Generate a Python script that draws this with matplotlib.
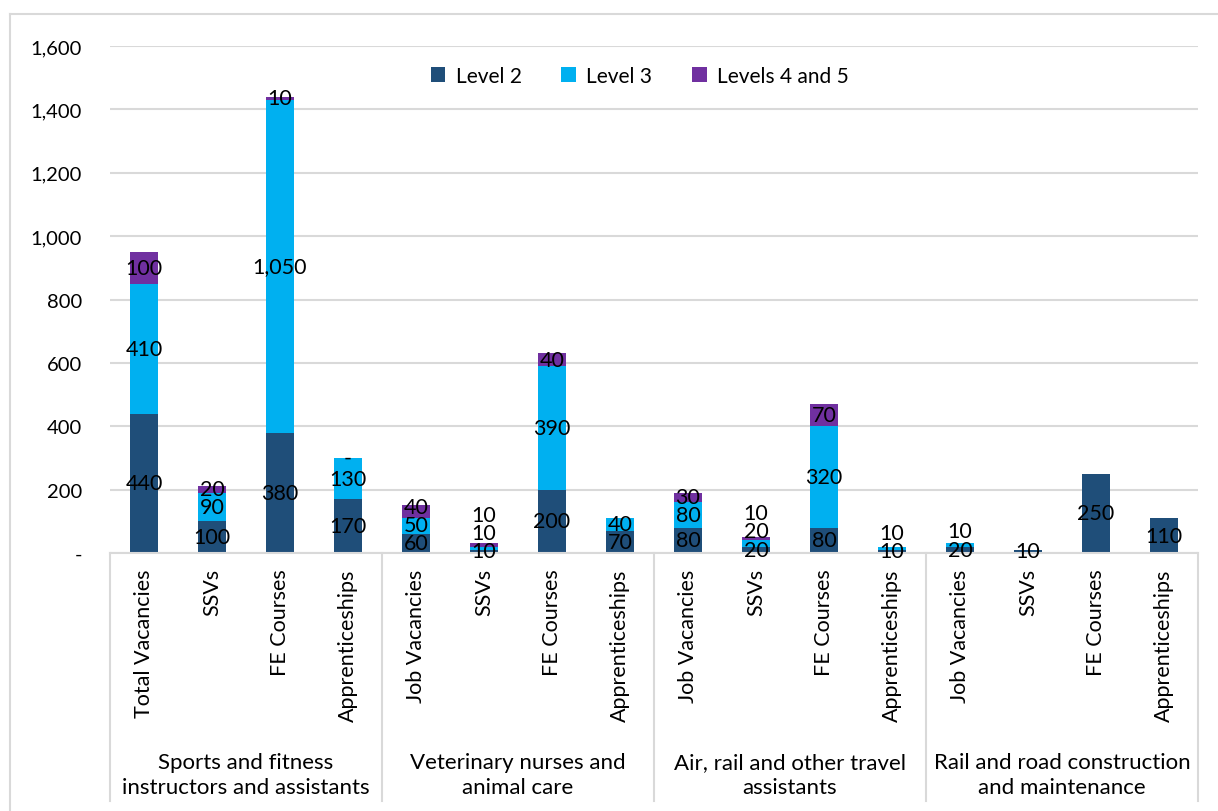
import numpy as np
import matplotlib.pyplot as plt
from matplotlib.lines import Line2D

plt.rcParams['font.family'] = ['Lato', 'DejaVu Sans']

#data
groups = ['Sports and fitness\ninstructors and assistants',
          'Veterinary nurses and\nanimal care',
          'Air, rail and other travel\nassistants',
          'Rail and road construction\nand maintenance']
subcats = [
    ['Total Vacancies', 'SSVs', 'FE Courses', 'Apprenticeships'],
    ['Job Vacancies', 'SSVs', 'FE Courses', 'Apprenticeships'],
    ['Job Vacancies', 'SSVs', 'FE Courses', 'Apprenticeships'],
    ['Job Vacancies', 'SSVs', 'FE Courses', 'Apprenticeships'],
]
nan = np.nan
level2 = [440, 100, 380, 170, 60, 10, 200, 70, 80, 20, 80, 10, 20, 10, 250, 110]
level3 = [410, 90, 1050, 130, 50, 10, 390, 40, 80, 20, 320, 10, 10, nan, nan, nan]
level45 = [100, 20, 10, 0, 40, 10, 40, nan, 30, 10, 70, nan, nan, nan, nan, nan]

series = [('Level 2', level2, '#1F4E79'),
          ('Level 3', level3, '#00B0F0'),
          ('Levels 4 and 5', level45, '#7030A0')]

fig = plt.figure(figsize=(12.18, 8.12), dpi=100)
ax = fig.add_axes([110/1218, 1 - 554/812, 1088/1218, 507/812])

x = np.arange(len(level2))
bottom = np.zeros(len(x))
label_pos = [[] for _ in x]
for name, vals, col in series:
    v = np.array(vals, dtype=float)
    h = np.nan_to_num(v)
    ax.bar(x, h, 0.4, bottom=bottom, color=col, label=name, zorder=2)
    for i in x:
        if not np.isnan(v[i]):
            label_pos[i].append((bottom[i] + h[i] / 2, v[i]))
    bottom += h

#data labels, pushed apart where segments are thin
for i in x:
    prev = -1e9
    for yc, val in label_pos[i]:
        y = max(yc, prev + 58)
        prev = y
        txt = '-' if val == 0 else '{:,.0f}'.format(val)
        ax.text(i, y, txt, ha='center', va='center', fontsize=15.5, color='black', zorder=3)

ax.set_xlim(-0.5, len(x) - 0.5)
ax.set_ylim(0, 1600)
ax.set_yticks(range(0, 1601, 200))
ax.set_yticklabels(['-'] + ['{:,}'.format(t) for t in range(200, 1601, 200)], fontsize=14.5)
ax.yaxis.grid(True, color='#D9D9D9', lw=1.5, zorder=0)
ax.tick_params(axis='y', length=0, pad=20)
for s in ['top', 'right', 'left']:
    ax.spines[s].set_visible(False)
ax.spines['bottom'].set_color('#D9D9D9')
ax.spines['bottom'].set_linewidth(1.5)

#two level category axis
ax.set_xticks(x)
ax.set_xticklabels([s for g in subcats for s in g], rotation=90, fontsize=15.5, va='top')
ax.tick_params(axis='x', length=0, pad=11)
trans = ax.get_xaxis_transform()
for k in range(len(groups) + 1):
    xb = k * 4 - 0.5
    ax.add_line(Line2D([xb, xb], [0, -0.49], transform=trans, color='#D9D9D9', lw=1.5, clip_on=False))
for k, g in enumerate(groups):
    ax.text(k * 4 + 1.5, -0.392, g, transform=trans, ha='center', va='top', fontsize=16,
            linespacing=1.3)

ax.legend(loc='upper center', bbox_to_anchor=(0.487, 0.998), ncol=3, frameon=False, fontsize=15,
          handlelength=0.7, handleheight=0.7, columnspacing=1.9, handletextpad=0.5)

#chart border
fig.add_artist(Line2D([10/1218, 10/1218], [0, 1 - 15/812], color='#D9D9D9', lw=1.5))
fig.add_artist(Line2D([10/1218, 1], [1 - 15/812, 1 - 15/812], color='#D9D9D9', lw=1.5))

fig.savefig('out.png', dpi=100)
